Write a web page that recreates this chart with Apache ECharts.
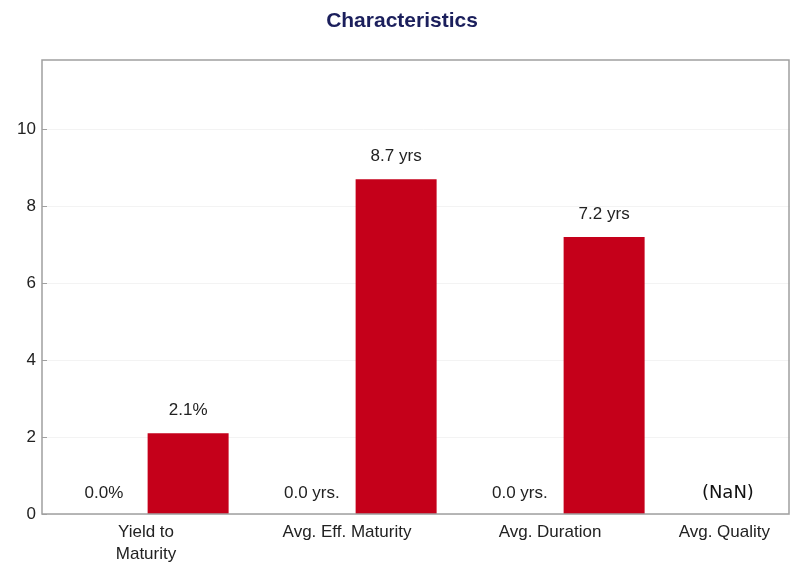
<!DOCTYPE html>
<html>
<head>
<meta charset="utf-8">
<script src="https://cdn.jsdelivr.net/npm/echarts@6/dist/echarts.min.js"></script>
<style>
html,body{margin:0;padding:0;background:#fff;}
#chart{width:804px;height:573px;}
</style>
</head>
<body>
<div id="chart"></div>
<script>
// ---- data ----
var categories = ['Yield to\nMaturity', 'Avg. Eff. Maturity', 'Avg. Duration', 'Avg. Quality'];
var benchmarkValues = [0, 0, 0, 0];
var benchmarkLabels = ['0.0%', '0.0 yrs.', '0.0 yrs.', '(NaN)'];
var fundValues = [2.1, 8.7, 7.2, null];
var fundLabels = ['2.1%', '8.7 yrs', '7.2 yrs', ''];
var yTicks = [0, 2, 4, 6, 8, 10];
var yMax = 11.8;

var FONT = '"Liberation Sans", Arial, sans-serif';
var chart = echarts.init(document.getElementById('chart'), null, {renderer: 'canvas'});

// per-category label styling (layout only)
var catLabelStyles = [
  {},
  {padding: [0, 14, 0, 0]},
  {padding: [0, 24, 0, 0]},
  {align: 'right', padding: [0, 0, 0, 0]}
];
var catData = categories.map(function (c, i) {
  return {value: c, textStyle: catLabelStyles[i]};
});

chart.setOption({
  backgroundColor: '#ffffff',
  animation: false,
  title: {
    text: 'Characteristics',
    left: 'center',
    top: 6,
    textStyle: {fontFamily: FONT, fontSize: 21, fontWeight: 'bold', color: '#1b1f5c'}
  },
  grid: {left: 42, top: 60, width: 832, height: 454, containLabel: false, outerBoundsMode: 'none'},
  xAxis: {
    type: 'category',
    data: catData,
    axisLine: {show: false},
    axisTick: {show: false},
    axisLabel: {fontFamily: FONT, fontSize: 17, color: '#222', margin: 7, lineHeight: 22, interval: 0}
  },
  yAxis: {
    type: 'value',
    min: 0,
    max: yMax,
    interval: 2,
    axisLine: {show: false},
    axisTick: {show: true, inside: true, length: 5, lineStyle: {color: '#a0a0a0'}, customValues: yTicks},
    axisLabel: {fontFamily: FONT, fontSize: 17, color: '#222', margin: 6, customValues: yTicks},
    splitLine: {show: true, lineStyle: {color: '#f3f3f3', width: 1}}
  },
  graphic: [{
    type: 'rect',
    shape: {x: 42, y: 60, width: 747, height: 454},
    style: {fill: 'none', stroke: '#a0a0a0', lineWidth: 1.5},
    z: 100
  }, {
    type: 'rect',
    shape: {x: 790, y: 60, width: 20, height: 460},
    style: {fill: '#ffffff', stroke: 'none'},
    z: 90
  }],
  series: [
    {
      type: 'bar',
      data: benchmarkValues,
      barWidth: 81,
      barGap: '4%',
      itemStyle: {color: '#c5001a'},
      label: {
        show: true, position: 'top', distance: 12,
        fontFamily: FONT, fontSize: 17, color: '#222',
        formatter: function (p) {
          var t = benchmarkLabels[p.dataIndex];
          return t.charAt(0) === '(' ? '{b|' + t + '}' : t;
        },
        rich: {b: {fontFamily: '"DejaVu Sans", sans-serif', fontSize: 18, color: '#111'}}
      }
    },
    {
      type: 'bar',
      data: fundValues,
      barWidth: 81,
      barGap: '4%',
      itemStyle: {color: '#c5001a'},
      label: {
        show: true, position: 'top', distance: 14,
        fontFamily: FONT, fontSize: 17, color: '#222',
        formatter: function (p) { return fundLabels[p.dataIndex]; }
      }
    }
  ]
});
</script>
</body>
</html>
